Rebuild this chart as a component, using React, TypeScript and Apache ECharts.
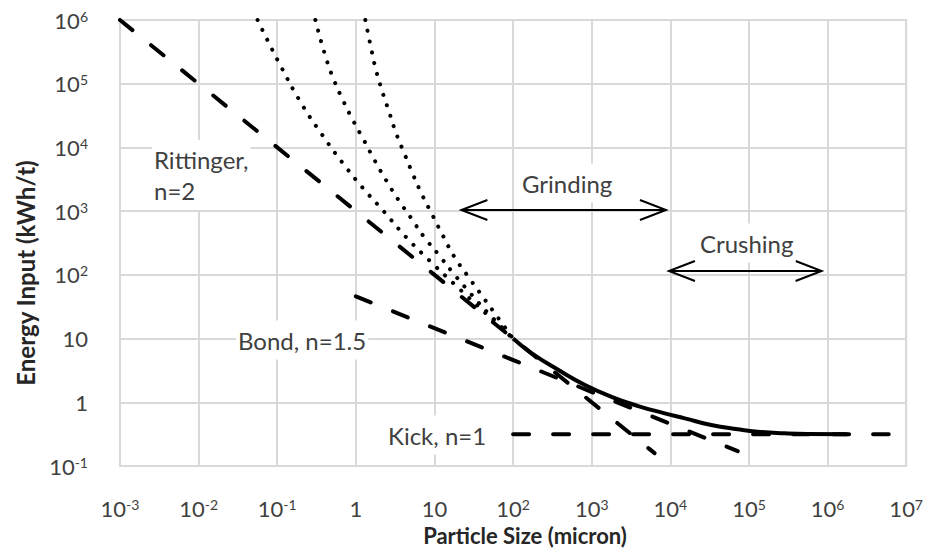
import React, { useEffect, useRef } from 'react';
import * as echarts from 'echarts';

// ---- axis ranges (log scale) ----
const xMin = 1e-3;
const xMax = 1e7;
const yMin = 1e-1;
const yMax = 1e6;

// ---- Walker-type straight lines ----
const rittingerX = [0.001, 6300];
const rittingerY = [1e6, 0.159];
const bondX = [1, 72000];
const bondY = [46, 0.171];
const kickX = [100, 6e6];
const kickY = [0.316, 0.316];

// ---- dotted curves (fine-size branches) ----
const dotAX = [0.0562, 0.1089, 0.2084, 0.3597, 0.6457, 1.191, 2.286, 4.426, 8.93, 19.95, 44.7, 100];
const dotAY = [1e6, 196800, 46300, 16830, 6194, 2415, 979, 383, 161, 63, 25, 10];
const dotBX = [0.3055, 0.4207, 0.5309, 0.6902, 0.9247, 1.274, 1.742, 2.443, 3.436, 5.07, 7.345, 11.14, 16.75, 28.2, 52.5, 100];
const dotBY = [1e6, 244300, 111400, 54100, 26240, 12760, 6194, 3006, 1535, 771, 397, 212, 112, 52.5, 22.4, 10];
const dotCX = [1.32, 1.549, 1.791, 2.153, 2.642, 3.243, 4.217, 5.37, 6.98, 9.55, 12.88, 17.62, 26.0, 39.8, 63.1, 100];
const dotCY = [1e6, 381000, 170200, 77600, 36400, 16830, 7603, 3690, 1791, 839, 407, 198, 99.3, 47.9, 21.9, 10];

// ---- overall (solid) curve ----
const overallX = [100, 173, 378, 822, 1786, 3899, 8492, 15240, 33110, 72100, 129100, 281800, 555900, 1786000];
const overallY = [10, 5.86, 3.21, 1.87, 1.22, 0.873, 0.671, 0.56, 0.44, 0.377, 0.345, 0.326, 0.318, 0.316];

// ---- size-range arrows: [from, to, energy level] ----
const arrowNames = ['Grinding', 'Crushing'];
const arrowRanges = [
  [22, 8800, 1040],
  [9600, 840000, 115],
];

const fontFamily = 'Lato, "Open Sans", sans-serif';
const labelColor = '#404040';

const zip = (xs: number[], ys: number[]) => xs.map((x, i) => [x, ys[i]]);

function expLabel(v: number) {
  const e = Math.round(Math.log10(v));
  if (e === 0) return '{b|1}';
  if (e === 1) return '{b|10}';
  return `{b|10}{s|${e}}`;
}

const rich = {
  b: { fontSize: 22, fontFamily, color: labelColor, lineHeight: 22 },
  s: { fontSize: 14, fontFamily, color: labelColor, lineHeight: 14, verticalAlign: 'top' },
};

const dashed = { color: '#000', width: 4, type: [16, 24], cap: 'round' };
const dotted = { color: '#000', width: 4, type: [0.1, 10.9], cap: 'round' };

export default function App() {
  const ref = useRef<HTMLDivElement>(null);
  useEffect(() => {
    if (!ref.current) return;
    const chart = echarts.init(ref.current, null, { renderer: 'svg' });
    const lineSeries = (name: string, data: number[][], lineStyle: any, smooth = false) => ({
      name,
      type: 'line',
      data,
      showSymbol: false,
      symbol: 'none',
      smooth,
      lineStyle,
      silent: true,
    });
    const annotation = (text: string, x: number, y: number) => ({
      type: 'text',
      x,
      y,
      z: 10,
      style: {
        text,
        fontSize: 24,
        fontFamily,
        fill: labelColor,
        lineHeight: 31,
        align: 'left',
        verticalAlign: 'middle',
        textAlign: 'left',
        textVerticalAlign: 'middle',
        backgroundColor: '#fff',
        padding: [4, 2, 4, 2],
      },
    });
    const axisCommon = {
      type: 'log',
      logBase: 10,
      interval: 1,
      axisLine: { show: true, lineStyle: { color: '#d9d9d9', width: 2 } },
      axisTick: { show: false },
      splitLine: { show: true, lineStyle: { color: '#d9d9d9', width: 2 } },
    };
    chart.setOption({
      animation: false,
      backgroundColor: '#fff',
      grid: { left: 120, top: 20, width: 789, height: 446, show: true, borderColor: '#d9d9d9', borderWidth: 2 },
      xAxis: {
        ...axisCommon,
        min: xMin,
        max: xMax,
        splitNumber: 10,
        axisLabel: { formatter: expLabel, rich, margin: 31, interval: 0, hideOverlap: false, showMinLabel: true, showMaxLabel: true },
      },
      yAxis: {
        ...axisCommon,
        min: yMin,
        max: yMax,
        splitNumber: 7,
        axisLabel: { formatter: expLabel, rich, margin: 32, interval: 0, hideOverlap: false, showMinLabel: true, showMaxLabel: true },
      },
      series: [
        lineSeries('Rittinger, n=2', zip(rittingerX, rittingerY), dashed),
        lineSeries('Bond, n=1.5', zip(bondX, bondY), dashed),
        lineSeries('Kick, n=1', zip(kickX, kickY), dashed),
        lineSeries('A', zip(dotAX, dotAY), dotted, true),
        lineSeries('B', zip(dotBX, dotBY), dotted, true),
        lineSeries('C', zip(dotCX, dotCY), dotted, true),
        lineSeries('Overall', zip(overallX, overallY), { color: '#000', width: 4 }, true),
        {
          type: 'custom',
          name: 'ranges',
          data: arrowRanges.map((r, i) => ({ name: arrowNames[i], value: r })),
          encode: { x: [0, 1], y: 2 },
          clip: false,
          silent: true,
          renderItem: (_params: any, api: any) => {
            const y = api.value(2);
            const a = api.coord([api.value(0), y]);
            const b = api.coord([api.value(1), y]);
            const hx = 26;
            const hy = 10;
            const st = { stroke: '#000', lineWidth: 2, fill: null };
            return {
              type: 'group',
              children: [
                { type: 'line', shape: { x1: a[0], y1: a[1], x2: b[0], y2: b[1] }, style: st },
                { type: 'polyline', shape: { points: [[a[0] + hx, a[1] - hy], [a[0], a[1]], [a[0] + hx, a[1] + hy]] }, style: st },
                { type: 'polyline', shape: { points: [[b[0] - hx, b[1] - hy], [b[0], b[1]], [b[0] - hx, b[1] + hy]] }, style: st },
              ],
            };
          },
        },
      ],
      graphic: [
        annotation('Rittinger,\nn=2', 152, 175),
        annotation('Bond, n=1.5', 236, 340),
        annotation('Kick, n=1', 386, 435),
        annotation('Grinding', 520, 183),
        annotation('Crushing', 698, 243),
        {
          type: 'text',
          x: 525,
          y: 535,
          z: 10,
          style: {
            text: 'Particle Size (micron)',
            fontSize: 22,
            lineHeight: 22,
            fontWeight: 'bold',
            fontFamily,
            fill: '#262626',
            align: 'center',
            verticalAlign: 'middle',
            textAlign: 'center',
            textVerticalAlign: 'middle',
          },
        },
        {
          type: 'text',
          x: 25,
          y: 273,
          z: 10,
          rotation: Math.PI / 2,
          style: {
            text: 'Energy Input (kWh/t)',
            fontSize: 24,
            lineHeight: 24,
            fontWeight: 'bold',
            fontFamily,
            fill: '#262626',
            align: 'center',
            verticalAlign: 'middle',
            textAlign: 'center',
            textVerticalAlign: 'middle',
          },
        },
      ],
    });
    return () => chart.dispose();
  }, []);
  return <div ref={ref} style={{ position: 'fixed', left: 0, top: 0, width: 926, height: 548 }} />;
}
